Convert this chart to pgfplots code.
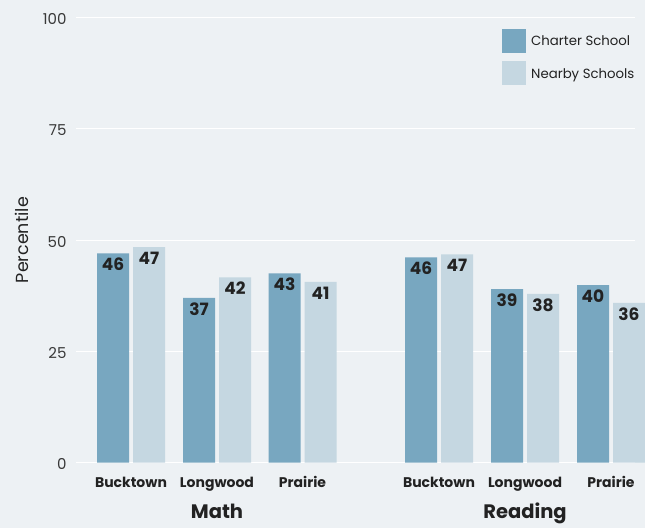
\documentclass[border=0pt]{standalone}
\usepackage{pgfplots}
\pgfplotsset{compat=1.18}
\usepackage{pgfplotstable}
\usepackage{fontspec}
\setmainfont{Poppins}
\definecolor{bgc}{HTML}{EDF1F4}
\definecolor{charter}{HTML}{78A7C0}
\definecolor{nearby}{HTML}{C5D7E1}
\definecolor{txt}{HTML}{222222}
\pgfplotstableread{
x cs nb labcs labnb
131 47.0 48.4 46 47
217 37.0 41.6 37 42
302.5 42.5 40.6 43 41
439 46.1 46.8 46 47
525 39.0 37.9 39 38
611 39.9 35.9 40 36
}\datatab
\begin{document}
\begin{tikzpicture}
\fill[bgc] (0,0) rectangle (645pt,528pt);
\begin{axis}[
  at={(76pt,65.5pt)}, anchor=south west,
  scale only axis, width=559pt, height=444.8pt,
  xmin=76, xmax=635, ymin=0, ymax=100,
  clip=false,
  axis line style={draw=none},
  tick style={draw=none},
  ymajorgrids, grid style={white, line width=1.2pt},
  ytick={0,25,50,75,100},
  yticklabel style={font=\fontsize{15}{15}\selectfont, text=txt!90, inner sep=0pt, anchor=east, xshift=-9.3pt, yshift=-1.5pt},
  xtick={131,217,302.5,439,525,611},
  xticklabels={Bucktown,Longwood,Prairie,Bucktown,Longwood,Prairie},
  xticklabel style={font=\bfseries\fontsize{14}{14}\selectfont, text=txt, inner sep=0pt, anchor=base, yshift=-24.5pt},
  /pgf/number format/assume math mode=true,
  point meta=explicit symbolic,
  nodes near coords,
  every node near coord/.append style={anchor=north, inner sep=0pt, yshift=-4.5pt, font=\bfseries\fontsize{17}{17}\selectfont, text=txt},
  legend style={draw=none, fill=none, inner sep=0pt, row sep=8.6pt,
    at={(axis cs:502,97.53)}, anchor=north west,
    nodes={inner sep=0pt, text height=9.5pt, text depth=0pt},
    font=\fontsize{13.3}{13.3}\selectfont, text=txt,
    /tikz/every odd column/.style={column sep=5pt}},
  legend cell align=left,
]
\addplot[ybar, fill=charter, draw=none, bar width=32pt, bar shift=-18pt,
  every node near coord/.append style={xshift=-18pt},
  legend image code/.code={\fill[charter] (0pt,-12pt) rectangle (24pt,12pt);}]
  table[x=x, y=cs, meta=labcs] {\datatab};
\addlegendentry{Charter School}
\addplot[ybar, fill=nearby, draw=none, bar width=32pt, bar shift=18pt,
  every node near coord/.append style={xshift=18pt},
  legend image code/.code={\fill[nearby] (0pt,-12pt) rectangle (24pt,12pt);}]
  table[x=x, y=nb, meta=labnb] {\datatab};
\addlegendentry{Nearby Schools}
\node[anchor=base, font=\bfseries\fontsize{19.5}{19.5}\selectfont, text=txt] at (axis cs:217,-12.48) {Math};
\node[anchor=base, font=\bfseries\fontsize{19.5}{19.5}\selectfont, text=txt] at (axis cs:525,-12.48) {Reading};
\node[rotate=90, font=\fontsize{17.5}{17.5}\selectfont, text=txt] at (axis cs:22,50.0) {Percentile};
\end{axis}
\end{tikzpicture}
\end{document}
